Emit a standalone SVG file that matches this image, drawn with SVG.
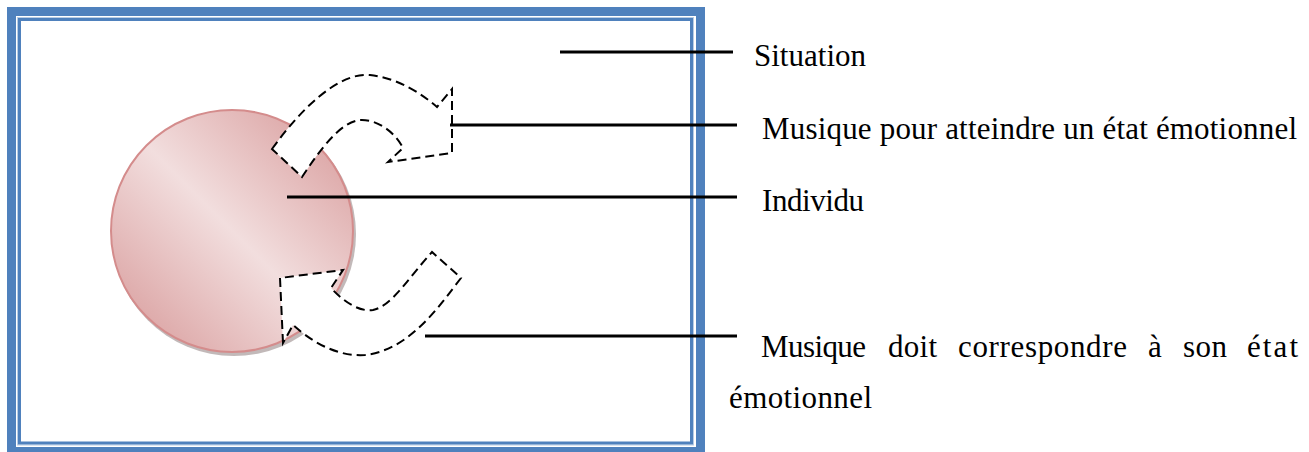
<svg xmlns="http://www.w3.org/2000/svg" width="1309" height="452" viewBox="0 0 1309 452">
  <defs>
    <linearGradient id="ballGrad" x1="0" y1="1" x2="1" y2="0">
      <stop offset="0" stop-color="#d69696"/>
      <stop offset="0.5" stop-color="#f2dede"/>
      <stop offset="1" stop-color="#d69696"/>
    </linearGradient>
  </defs>
  <style>
    .lbl { font-family: "Liberation Serif", "Times New Roman", serif; font-size: 31px; fill: #000; }
    .lead { stroke: #000; stroke-width: 3; fill: none; }
    .arrow { fill: #fff; stroke: #000; stroke-width: 2; stroke-dasharray: 9 5; stroke-linejoin: miter; }
  </style>
  <rect width="1309" height="452" fill="#fff"/>
  <g id="frame">
    <rect x="11.5" y="11.5" width="689" height="440" fill="none" stroke="#4f81bd" stroke-width="9"/>
    <rect x="17.5" y="17.5" width="676" height="427.5" fill="none" stroke="#b8cce4" stroke-width="1"/>
    <rect x="19.5" y="19.5" width="672" height="423.5" fill="none" stroke="#4f81bd" stroke-width="3"/>
  </g>
  <g id="individu">
    <circle cx="234" cy="234" r="122" fill="#9a8a8a" opacity="0.6"/>
    <circle cx="232" cy="231" r="121" fill="url(#ballGrad)" stroke="#d48c8c" stroke-width="2"/>
  </g>
  <g id="arrow-top">
    <path class="arrow" d="M272,149 C300,110 338,72 370,75 C398,78 422,94 437,107 L452,89 L452,153 L388,162 L403,148 C395,132 377,119 360,120 C340,122 320,150 302,177 Z"/>
  </g>
  <g id="arrow-bottom">
    <path class="arrow" d="M283,343 L280,278 L343,270 L331,288 C345,303 360,312 373,310 C392,306 410,276 432,252 L461,278 C440,305 410,350 365,355 C335,357 310,340 293,325 Z"/>
  </g>
  <g id="connectors">
    <line class="lead" x1="560" y1="52" x2="733" y2="52"/>
    <line class="lead" x1="450" y1="125" x2="737" y2="125"/>
    <line class="lead" x1="287" y1="197" x2="737" y2="197"/>
    <line class="lead" x1="425" y1="336" x2="737" y2="336"/>
  </g>
  <g id="labels">
    <text class="lbl" x="754" y="66" textLength="112" lengthAdjust="spacing">Situation</text>
    <text class="lbl" x="762" y="139" textLength="535" lengthAdjust="spacing">Musique pour atteindre un état émotionnel</text>
    <text class="lbl" x="762" y="211" textLength="102" lengthAdjust="spacing">Individu</text>
    <text class="lbl" y="357">
      <tspan x="761" textLength="105" lengthAdjust="spacing">Musique</tspan>
      <tspan x="888" textLength="49" lengthAdjust="spacing">doit</tspan>
      <tspan x="958" textLength="169" lengthAdjust="spacing">correspondre</tspan>
      <tspan x="1148">à</tspan>
      <tspan x="1183" textLength="44" lengthAdjust="spacing">son</tspan>
      <tspan x="1247" textLength="51" lengthAdjust="spacing">état</tspan>
    </text>
    <text class="lbl" x="729" y="408" textLength="143" lengthAdjust="spacing">émotionnel</text>
  </g>
</svg>
